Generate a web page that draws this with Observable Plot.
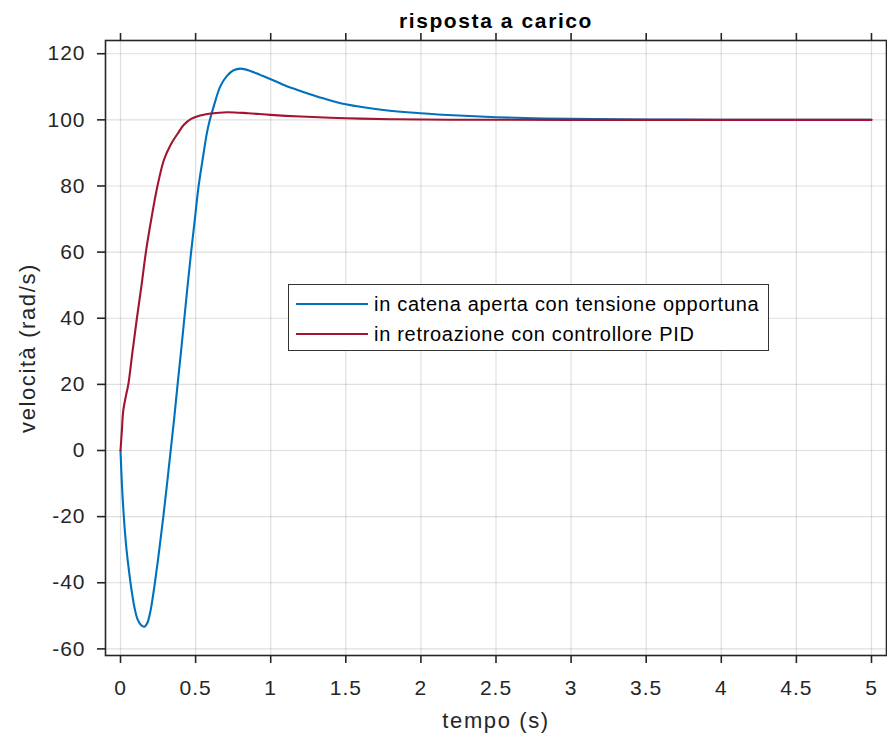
<!DOCTYPE html>
<html>
<head>
<meta charset="utf-8">
<script src="https://cdn.jsdelivr.net/npm/d3@7"></script>
<script src="https://cdn.jsdelivr.net/npm/@observablehq/plot@0.6"></script>
<style>
  body { margin: 0; background: #fff; }
  #wrap { position: relative; width: 887px; height: 738px; }
  #legend {
    position: absolute; left: 288px; top: 284px; width: 479px; height: 65px;
    border: 1.3px solid #333; background: #fff;
    font-family: "Liberation Sans", Arial, sans-serif; font-size: 20px; color: #000;
    letter-spacing: 0.7px;
  }
  .item { position: absolute; left: 0; height: 30px; display: flex; align-items: center; white-space: nowrap; }
  .sw { display: inline-block; width: 72px; height: 2px; margin-left: 7px; margin-right: 6px; }
</style>
</head>
<body>
<div id="wrap"></div>
<script>
// ---- data ----
const tempoAperta = [0, 0.009, 0.022, 0.04, 0.058, 0.076, 0.093, 0.113, 0.136, 0.158, 0.18, 0.196, 0.211, 0.229, 0.258, 0.285, 0.31, 0.334, 0.358, 0.38, 0.403, 0.425, 0.447, 0.47, 0.495, 0.52, 0.55, 0.575, 0.595, 0.62, 0.665, 0.709, 0.753, 0.8, 0.864, 0.93, 1.0, 1.1, 1.2, 1.35, 1.5, 1.75, 2.0, 2.25, 2.5, 2.75, 3.0, 3.5, 4.0, 5.0];
const velAperta = [0, -10, -20, -30, -37, -43, -47.5, -51, -52.8, -53.3, -52, -49.3, -45.5, -40, -30, -20, -10, 0, 10, 20, 30, 40, 50, 60, 70, 80, 89, 96, 100, 104, 110.2, 113.3, 115.0, 115.5, 114.8, 113.6, 112.3, 110.3, 108.7, 106.5, 104.7, 103.0, 102.0, 101.3, 100.8, 100.5, 100.3, 100.1, 100.03, 100];

const tempoPID = [0, 0.009, 0.018, 0.035, 0.052, 0.08, 0.109, 0.14, 0.169, 0.205, 0.246, 0.29, 0.334, 0.38, 0.422, 0.47, 0.53, 0.6, 0.71, 0.85, 1.0, 1.2, 1.5, 1.8, 2.2, 3.0, 5.0];
const velPID = [0, 6, 12, 16.3, 20, 30, 40, 50, 60, 70, 80, 88, 92.5, 95.8, 98.5, 100.3, 101.3, 101.9, 102.3, 102.0, 101.5, 101.0, 100.5, 100.2, 100.05, 100, 100];

const xTicks = [0, 0.5, 1, 1.5, 2, 2.5, 3, 3.5, 4, 4.5, 5];
const yTicks = [-60, -40, -20, 0, 20, 40, 60, 80, 100, 120];

const seriesNames = ["in catena aperta con tensione opportuna", "in retroazione con controllore PID"];
const seriesColors = ["#0072BD", "#A2142F"];
const titolo = "risposta a carico";
const xLabel = "tempo (s)";
const yLabel = "velocità (rad/s)";

const aperta = tempoAperta.map((t, i) => ({t, v: velAperta[i]}));
const pid = tempoPID.map((t, i) => ({t, v: velPID[i]}));

const ink = "#262626";
const chart = Plot.plot({
  width: 887, height: 738,
  marginLeft: 105, marginRight: 1, marginTop: 40, marginBottom: 83,
  style: {fontFamily: "'Liberation Sans', Arial, sans-serif", color: ink, background: "white", overflow: "visible"},
  x: {domain: [-0.1, 5.1], label: null},
  y: {domain: [-62, 124], label: null},
  marks: [
    Plot.gridX(xTicks, {stroke: ink, strokeOpacity: 0.15, strokeWidth: 1.2}),
    Plot.gridY(yTicks, {stroke: ink, strokeOpacity: 0.15, strokeWidth: 1.2}),
    Plot.line(aperta, {x: "t", y: "v", stroke: seriesColors[0], strokeWidth: 2.1, curve: "catmull-rom"}),
    Plot.line(pid, {x: "t", y: "v", stroke: seriesColors[1], strokeWidth: 2.1, curve: "catmull-rom"}),
    Plot.frame({stroke: ink, strokeWidth: 1.6}),
    Plot.axisX(xTicks, {anchor: "bottom", tickSize: 8, tickPadding: 17, tickFormat: d => String(d), fontSize: 21, label: null, strokeWidth: 1.6, stroke: ink}),
    Plot.axisX(xTicks, {anchor: "top", tickSize: 8, tickFormat: () => "", label: null, strokeWidth: 1.6, stroke: ink}),
    Plot.axisY(yTicks, {anchor: "left", tickSize: 8, tickPadding: 12, tickFormat: d => String(d), fontSize: 21, label: null, strokeWidth: 1.6, stroke: ink}),
    Plot.text([titolo], {frameAnchor: "top", lineAnchor: "middle", textAnchor: "middle", dy: -19, fontWeight: "bold", fontSize: 21, fill: "#000"}),
    Plot.text([xLabel], {frameAnchor: "bottom", lineAnchor: "middle", textAnchor: "middle", dy: 65, fontSize: 22, fill: ink}),
    Plot.text([yLabel], {frameAnchor: "left", lineAnchor: "middle", textAnchor: "middle", dx: -78, rotate: -90, fontSize: 22, fill: ink})
  ]
});

const wrap = document.getElementById("wrap");
wrap.appendChild(chart);
d3.select(chart).selectAll('[aria-label="x-axis tick label"] text, [aria-label="y-axis tick label"] text').style("letter-spacing", "1px");
d3.select(chart).selectAll('g[aria-label="text"] text').style("letter-spacing", "1.6px");

// legend
const leg = document.createElement("div");
leg.id = "legend";
seriesNames.forEach((name, i) => {
  const it = document.createElement("div");
  it.className = "item";
  it.style.top = (4 + i * 30) + "px";
  const sw = document.createElement("span");
  sw.className = "sw";
  sw.style.background = seriesColors[i];
  const tx = document.createElement("span");
  tx.textContent = name;
  it.appendChild(sw); it.appendChild(tx);
  leg.appendChild(it);
});
wrap.appendChild(leg);
</script>
</body>
</html>
